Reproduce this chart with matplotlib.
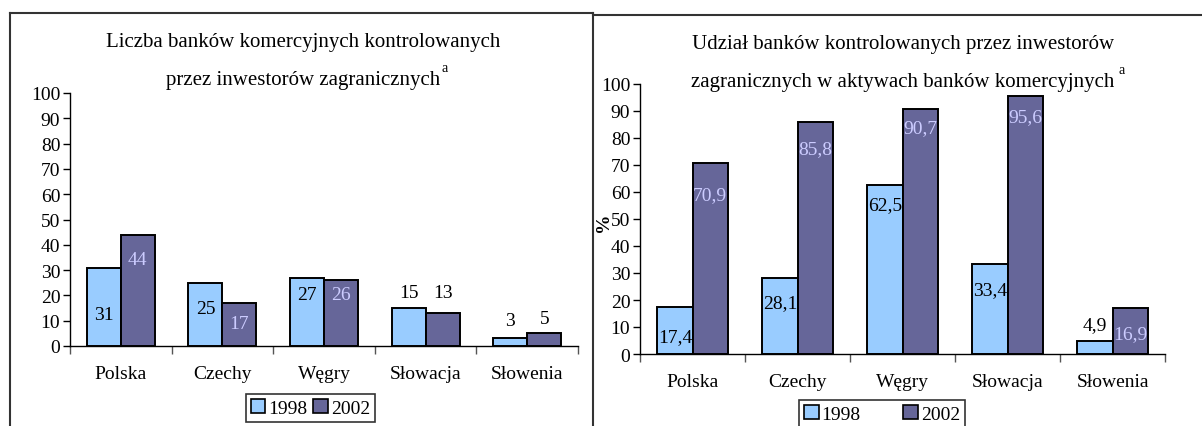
import matplotlib
matplotlib.use("Agg")
import matplotlib.pyplot as plt
from matplotlib.lines import Line2D
from matplotlib.patches import Patch
import numpy as np

plt.rcParams['font.family'] = ['Liberation Serif', 'DejaVu Serif']

# ---------------- data ----------------
countries = ["Polska", "Czechy", "Węgry", "Słowacja", "Słowenia"]
years = ["1998", "2002"]
banks_1998 = [31, 25, 27, 15, 3]
banks_2002 = [44, 17, 26, 13, 5]
share_1998 = [17.4, 28.1, 62.5, 33.4, 4.9]
share_2002 = [70.9, 85.8, 90.7, 95.6, 16.9]
share_1998_txt = ["17,4", "28,1", "62,5", "33,4", "4,9"]
share_2002_txt = ["70,9", "85,8", "90,7", "95,6", "16,9"]
yticks = [0, 10, 20, 30, 40, 50, 60, 70, 80, 90, 100]

title_left = ["Liczba banków komercyjnych kontrolowanych", "przez inwestorów zagranicznych"]
title_right = ["Udział banków kontrolowanych przez inwestorów",
               "zagranicznych w aktywach banków komercyjnych"]

# ---------------- layout / style ----------------
W, H = 1202, 427
C98 = "#99CCFF"
C02 = "#666699"
LAV = "#CCCCFF"
# label vertical positions (data units) and colours -- layout only
lab_left_98_y = [12.5, 15, 20.5, 21, 10]
lab_left_02_y = [34, 8.7, 20.5, 21, 11]
lab_left_02_col = [LAV, LAV, LAV, "black", "black"]
lab_right_98_y = [6.3, 19, 55.5, 24, 11]
lab_right_02_y = [59, 76, 84, 88, 7.4]

fig = plt.figure(figsize=(W / 100, H / 100), dpi=100)


def fx(px):
    return px / W


def fy(py):
    return 1 - py / H


def make_axes(rect, v98, v02):
    ax = fig.add_axes(rect)
    x = np.arange(len(countries))
    bw = 0.335
    ax.bar(x - bw / 2, v98, bw, color=C98, edgecolor="black", linewidth=1.4, zorder=3)
    ax.bar(x + bw / 2, v02, bw, color=C02, edgecolor="black", linewidth=1.4, zorder=3)
    ax.set_xlim(-0.5, len(countries) - 0.5)
    ax.set_ylim(0, 100)
    ax.set_yticks(yticks)
    ax.set_yticklabels([str(t) for t in yticks], fontsize=14)
    ax.set_xticks(x)
    ax.set_xticklabels(countries, fontsize=14)
    ax.set_xticks(np.arange(len(countries) + 1) - 0.5, minor=True)
    ax.tick_params(axis="x", which="major", length=0, pad=14)
    ax.tick_params(axis="x", which="minor", length=6, width=1, direction="out", color="#555555")
    ax.tick_params(axis="y", length=5, width=1, direction="out", pad=2)
    for s in ["top", "right"]:
        ax.spines[s].set_visible(False)
    ax.spines["left"].set_linewidth(1)
    ax.spines["bottom"].set_linewidth(1)
    ax.patch.set_alpha(0)
    return ax, x, bw


# left axes: x 70..578, y 94..347
axL, x, bw = make_axes([fx(70), fy(347), fx(578) - fx(70), (347 - 94) / H], banks_1998, banks_2002)
for i in range(len(countries)):
    axL.text(x[i] - bw / 2, lab_left_98_y[i], str(banks_1998[i]), ha="center", va="center",
             fontsize=14, color="black", zorder=5)
    axL.text(x[i] + bw / 2, lab_left_02_y[i], str(banks_2002[i]), ha="center", va="center",
             fontsize=14, color=lab_left_02_col[i], zorder=5)

# right axes: x 640..1165, y 85..355
axR, x, bw = make_axes([fx(640), fy(355), fx(1165) - fx(640), (355 - 85) / H], share_1998, share_2002)
for i in range(len(countries)):
    axR.text(x[i] - bw / 2, lab_right_98_y[i], share_1998_txt[i], ha="center", va="center",
             fontsize=14, color="black", zorder=5)
    axR.text(x[i] + bw / 2, lab_right_02_y[i], share_2002_txt[i], ha="center", va="center",
             fontsize=14, color=LAV, zorder=5)

fig.text(fx(604), fy(222), "%", rotation=90, ha="center", va="center", fontsize=14, fontweight="bold")

# titles
fig.text(fx(303), fy(43), title_left[0], ha="center", va="center", fontsize=15)
tl2 = fig.text(fx(303), fy(80), title_left[1], ha="center", va="center", fontsize=15)
fig.text(fx(903), fy(45), title_right[0], ha="center", va="center", fontsize=15)
tr2 = fig.text(fx(903), fy(82), title_right[1], ha="center", va="center", fontsize=15)

fig.canvas.draw()
r = fig.canvas.get_renderer()
for t, gap, ys in [(tl2, 1, 68), (tr2, 4, 71)]:
    bb = t.get_window_extent(r)
    fig.text((bb.x1 + gap) / W, fy(ys), "a", ha="left", va="center", fontsize=10)

# legends
handles = [Patch(facecolor=C98, edgecolor="black", linewidth=1.2),
           Patch(facecolor=C02, edgecolor="black", linewidth=1.2)]
for (x0, x1, ytop, spacing) in [(244, 377, 395, 0.3), (797, 967, 401, 2.2)]:
    leg = fig.legend(handles, years, loc="upper center",
                     bbox_to_anchor=(fx((x0 + x1) / 2), fy(ytop)), ncol=2, fontsize=14,
                     frameon=True, fancybox=False, edgecolor="black", handlelength=0.75,
                     handleheight=0.75, handletextpad=0.15, columnspacing=spacing,
                     borderpad=0.25, borderaxespad=0)
    leg.get_frame().set_linewidth(1.2)

# panel frames
fig.add_artist(Line2D([fx(9.5), fx(9.5)], [fy(14), 0], color="#333333", lw=1.5))
fig.add_artist(Line2D([fx(9.5), fx(593)], [fy(14), fy(14)], color="#333333", lw=1.5))
fig.add_artist(Line2D([fx(593), fx(593)], [fy(14), 0], color="#333333", lw=1.5))
fig.add_artist(Line2D([fx(593), 1], [fy(16), fy(16)], color="#333333", lw=1.5))

fig.savefig("out.png", dpi=100)
